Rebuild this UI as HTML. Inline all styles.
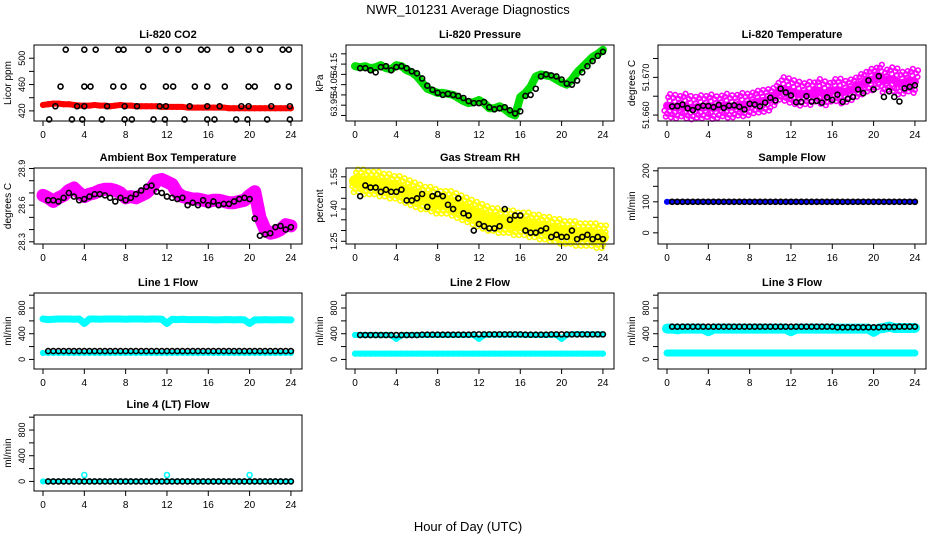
<!DOCTYPE html>
<html><head><meta charset="utf-8"><style>
html,body{margin:0;padding:0;background:#fff;}
svg{display:block;font-family:"Liberation Sans",sans-serif;}
</style></head><body>
<svg id="c" width="936" height="540" viewBox="0 0 936 540">
<text x="468" y="14" text-anchor="middle" font-size="13">NWR_101231  Average Diagnostics</text>
<text x="468" y="531" text-anchor="middle" font-size="13">Hour of Day (UTC)</text>
</svg>
<script>
// ---- data (0.5-hour steps; colored = all samples band, black = averages from 0.5h) ----
const xTicks = [0,4,8,12,16,20,24];
const co2Band = [429,430,431,431,430,430,429,428,428,428,429,428,428,427,428,429,428,428,427,427,427,427,427,426,426,426,426,426,425,425,425,425,425,425,425,425,424,424,424,424,424,424,424,424,424,424,424,424,424];
const co2BlackH = [2.2,4.0,5.1,7.3,7.8,10.2,11.9,13.1,15.3,15.9,18.2,19.9,21.0,23.2,23.8, 1.7,4.0,4.6,6.8,7.8,9.7,11.9,12.6,14.7,15.9,17.6,19.9,20.5,22.7,23.8, 1.2,3.3,4.0,6.2,7.9,9.1,11.3,11.9,14.2,15.9,17.1,19.2,19.9,22.1,23.9, 0.6,2.8,3.8,5.7,7.9,8.6,10.7,11.8,13.7,15.9,16.6,18.7,19.8,21.7,23.9];
const co2BlackV = [513,513,513,513,513,513,513,513,513,513,513,513,513,513,513, 457,457,457,457,457,457,457,457,457,457,457,457,457,457,457, 427,427,427,427,427,427,427,427,427,427,427,427,427,427,427, 407,407,407,407,407,407,407,407,407,407,407,407,407,407,407];
const presBand = [64.14,64.135,64.14,64.13,64.135,64.145,64.13,64.125,64.145,64.14,64.12,64.11,64.09,64.06,64.03,64.02,64.01,64.01,64.005,64.0,63.985,63.97,63.96,63.965,63.975,63.96,63.935,63.935,63.945,63.93,63.91,63.9,63.99,64.01,64.04,64.09,64.1,64.095,64.09,64.075,64.06,64.05,64.075,64.11,64.135,64.16,64.185,64.2,64.22];
const presBlack = [64.13,64.13,64.12,64.11,64.135,64.14,64.12,64.135,64.14,64.13,64.115,64.105,64.08,64.045,64.025,64.01,64.0,64.005,64.0,63.995,63.985,63.97,63.96,63.96,63.965,63.94,63.93,63.935,63.94,63.925,63.91,63.92,63.995,64.0,64.03,64.09,64.1,64.095,64.09,64.075,64.055,64.05,64.07,64.11,64.14,64.165,64.19,64.21];
const tempBand = [51.6625,51.6623,51.662,51.6626,51.662,51.6618,51.6622,51.662,51.6624,51.6619,51.6621,51.6626,51.6622,51.6623,51.6628,51.6626,51.6629,51.6634,51.6636,51.6638,51.6641,51.6655,51.667,51.6667,51.6662,51.6658,51.6654,51.6658,51.6656,51.6665,51.6659,51.6655,51.6665,51.6666,51.666,51.6664,51.6669,51.6678,51.6684,51.6692,51.6695,51.6703,51.669,51.6696,51.6693,51.6684,51.6686,51.6692,51.6688];
const tempBlack = [51.6623,51.6624,51.6628,51.6618,51.6613,51.6621,51.6625,51.6624,51.6621,51.6627,51.6619,51.6625,51.6626,51.6622,51.6615,51.663,51.6628,51.6623,51.6633,51.6646,51.6639,51.667,51.666,51.6652,51.6634,51.6635,51.665,51.6636,51.6638,51.6633,51.6647,51.664,51.6654,51.6635,51.6643,51.6648,51.6668,51.6658,51.6692,51.6668,51.6703,51.6648,51.6663,51.6648,51.6636,51.6671,51.6675,51.6679];
const ambBand = [28.68,28.66,28.63,28.66,28.68,28.72,28.74,28.70,28.67,28.69,28.70,28.72,28.73,28.73,28.72,28.70,28.66,28.67,28.66,28.68,28.70,28.74,28.80,28.81,28.79,28.77,28.70,28.67,28.66,28.65,28.65,28.64,28.63,28.64,28.64,28.63,28.62,28.62,28.63,28.64,28.68,28.71,28.50,28.40,28.37,28.38,28.40,28.44,28.43];
const ambBlack = [28.64,28.64,28.63,28.66,28.70,28.67,28.64,28.65,28.67,28.69,28.69,28.68,28.66,28.63,28.66,28.64,28.66,28.69,28.72,28.75,28.76,28.71,28.70,28.67,28.66,28.65,28.66,28.60,28.62,28.60,28.64,28.60,28.63,28.60,28.61,28.61,28.63,28.65,28.66,28.65,28.49,28.35,28.36,28.37,28.42,28.43,28.40,28.42];
const rhBand = [1.53,1.53,1.52,1.52,1.52,1.51,1.51,1.50,1.50,1.49,1.48,1.47,1.46,1.45,1.45,1.44,1.43,1.43,1.43,1.42,1.41,1.40,1.39,1.38,1.37,1.36,1.35,1.35,1.34,1.34,1.34,1.33,1.33,1.33,1.32,1.32,1.31,1.31,1.30,1.30,1.29,1.29,1.29,1.28,1.28,1.28,1.28,1.27,1.27];
const rhBlack = [1.46,1.51,1.50,1.50,1.48,1.49,1.48,1.48,1.49,1.44,1.44,1.45,1.47,1.41,1.46,1.47,1.46,1.42,1.40,1.45,1.38,1.37,1.30,1.33,1.32,1.31,1.31,1.32,1.40,1.35,1.37,1.37,1.30,1.29,1.29,1.30,1.31,1.27,1.28,1.27,1.27,1.30,1.26,1.27,1.28,1.26,1.27,1.26];
const sampleBand = [100,100,100,100,100,100,100,100,100,100,100,100,100,100,100,100,100,100,100,100,100,100,100,100,100,100,100,100,100,100,100,100,100,100,100,100,100,100,100,100,100,100,100,100,100,100,100,100,100];
const sampleBlack = [100,100,100,100,100,100,100,100,100,100,100,100,100,100,100,100,100,100,100,100,100,100,100,100,100,100,100,100,100,100,100,100,100,100,100,100,100,100,100,100,100,100,100,100,100,100,100,100];
const l1High = [630,620,625,630,630,630,625,630,560,630,630,625,630,630,630,630,625,630,630,630,625,630,630,625,560,625,620,625,620,620,620,620,620,615,615,620,620,615,620,615,560,615,615,620,615,615,620,615,615];
const l1Low = [100,100,100,100,100,100,100,100,100,100,100,100,100,100,100,100,100,100,100,100,100,100,100,100,100,100,100,100,100,100,100,100,100,100,100,100,100,100,100,100,100,100,100,100,100,100,100,100,100];
const l1Black = [130,130,130,130,130,130,130,130,130,130,130,130,130,130,130,130,130,130,130,130,130,130,130,130,130,130,130,130,130,130,130,130,130,130,130,130,130,130,130,130,130,130,130,130,130,130,130,130];
const l2High = [380,380,380,380,380,380,380,380,320,380,380,380,380,380,380,380,380,380,380,380,380,380,380,380,320,380,385,385,385,385,385,385,385,380,380,380,380,380,380,380,320,385,390,395,390,390,390,390,390];
const l2Low = [90,90,90,90,90,90,90,90,90,90,90,90,90,90,90,90,90,90,90,90,90,90,90,90,90,90,90,90,90,90,90,90,90,90,90,90,90,90,90,90,90,90,90,90,90,90,90,90,90];
const l2Black = [380,380,380,380,380,380,380,380,380,380,380,380,385,385,385,385,385,385,385,385,385,385,390,390,390,390,390,390,390,390,390,390,385,385,385,385,385,390,390,390,390,390,390,390,390,390,390,390];
const l3High = [480,480,470,480,480,480,480,480,440,480,480,480,480,480,480,480,480,480,480,480,480,480,480,480,440,480,480,480,480,480,480,480,480,480,480,480,480,480,480,480,430,480,490,510,490,490,490,490,490];
const l3Low = [100,100,100,100,100,100,100,100,100,100,100,100,100,100,100,100,100,100,100,100,100,100,100,100,100,100,100,100,100,100,100,100,100,100,100,100,100,100,100,100,100,100,100,100,100,100,100,100,100];
const l3Black = [510,510,510,510,510,510,510,510,510,510,510,510,510,510,510,510,510,510,510,510,510,510,510,510,510,510,510,510,510,510,510,510,500,500,500,500,500,500,500,500,500,505,505,505,510,510,510,510];
const l4Band = [0,0,0,0,0,0,0,0,0,0,0,0,0,0,0,0,0,0,0,0,0,0,0,0,0,0,0,0,0,0,0,0,0,0,0,0,0,0,0,0,0,0,0,0,0,0,0,0,0];
const l4SpikeH = [4,12,20];
const l4SpikeV = [100,100,100];
const l4Black = [0,0,0,0,0,0,0,0,0,0,0,0,0,0,0,0,0,0,0,0,0,0,0,0,0,0,0,0,0,0,0,0,0,0,0,0,0,0,0,0,0,0,0,0,0,0,0,0];

// ---- drawing ----
const NS = "http://www.w3.org/2000/svg";
const svg = document.getElementById('c');
function mk(tag, attrs, parent){ const e=document.createElementNS(NS,tag); for(const k in attrs) e.setAttribute(k,attrs[k]); (parent||svg).appendChild(e); return e; }
const rowTop=[45,168,293,415], H=76, W=268;
function panel(col,row,title,ylab,ymin,ymax,ticks,labels){
  const g=mk('g',{});
  
  
  const L=34+312*col, T=rowTop[row];
  const xs=h=>L+9+h*10.33;
  const ys=v=>T+H-( (v-ymin)/(ymax-ymin) )*H;
  const t=mk('text',{x:L+W/2,y:T-7,'text-anchor':'middle','font-size':11,'font-weight':'bold'},g); t.textContent=title;
  
  
  const yl=mk('text',{transform:`translate(${L-23},${T+H/2}) rotate(-90)`,'text-anchor':'middle','font-size':10},g); yl.textContent=ylab;
  
  
  const plot=mk('g',{},g);
  
  
  mk('rect',{x:L,y:T,width:W,height:H,fill:'none',stroke:'#000','stroke-width':1},g);
  xTicks.forEach(h=>{ const x=xs(h); mk('line',{x1:x,x2:x,y1:T+H,y2:T+H+5,stroke:'#000'},g);
    const tl=mk('text',{x:x,y:T+H+17,'text-anchor':'middle','font-size':10},g); tl.textContent=h;
    
     });
  ticks.forEach((v,i)=>{ const y=ys(v); mk('line',{x1:L-5,x2:L,y1:y,y2:y,stroke:'#000'},g);
    if(labels[i]){ const tl=mk('text',{transform:`translate(${L-9},${y}) rotate(-90)`,'text-anchor':'middle','font-size':9},g); tl.textContent=labels[i];
      
       } });
  return {g:plot,xs,ys,L,T};
}
function band(p,vals,color,w,spread){
  let pts=vals.map((v,i)=>p.xs(i*0.5)+','+p.ys(v)).join(' ');
  const pl=mk('polyline',{points:pts,fill:'none',stroke:color,'stroke-width':w,'stroke-linejoin':'round','stroke-linecap':'round'},p.g);
  
  
  vals.forEach((v,i)=>{
    const x=p.xs(i*0.5), y=p.ys(v);
    mk('circle',{cx:x,cy:y,r:2.3,fill:'none',stroke:color,'stroke-width':1.6},p.g);
    if(spread){ [[-0.25,1],[0.25,-1],[0,1.6],[0.12,-1.7],[-0.12,2.2],[0.3,-2.3]].forEach(o=>{
      mk('circle',{cx:x+o[0]*10.33,cy:y+o[1]*spread,r:2.3,fill:'none',stroke:color,'stroke-width':1.6},p.g); }); }
  });
}
function dots(p,hs,vals,color){
  vals.forEach((v,i)=>{ const h=hs?hs[i]:0.5+i*0.5;
    const c=mk('circle',{cx:p.xs(h),cy:p.ys(v),r:2.5,fill:'none',stroke:color||'#000','stroke-width':1.6},p.g);
    
     });
}
const flowTicks=[0,200,400,600,800,1000], flowLabels=['0','','400','','800',''];
let p;
p=panel(0,0,'Li-820 CO2','Licor ppm',404.6,520.1,[420,440,460,480,500],['420','','460','','500']);
band(p,co2Band,'#ff0000',6,0); dots(p,co2BlackH,co2BlackV);
p=panel(1,0,'Li-820 Pressure','kPa',63.873,64.243,[63.9,63.95,64.0,64.05,64.1,64.15,64.2],['','63.95','','64.05','','64.15','']);
band(p,presBand,'#00dd00',8,0); dots(p,null,presBlack);
p=panel(2,0,'Li-820 Temperature','degrees C',51.65843,51.67858,[51.66,51.665,51.67,51.675],['51.660','','51.670','']);
band(p,tempBand,'#ff00ff',8,5); dots(p,null,tempBlack);
p=panel(0,1,'Ambient Box Temperature','degrees C',28.282,28.904,[28.3,28.4,28.5,28.6,28.7,28.8,28.9],['28.3','','','28.6','','','28.9']);
band(p,ambBand,'#ff00ff',13,0); dots(p,null,ambBlack);
p=panel(1,1,'Gas Stream RH','percent',1.2373,1.591,[1.25,1.3,1.35,1.4,1.45,1.5,1.55],['1.25','','','1.40','','','1.55']);
band(p,rhBand,'#ffff00',12,5); dots(p,null,rhBlack);
p=panel(2,1,'Sample Flow','ml/min',-36,209,[0,50,100,150,200],['0','','100','','200']);
band(p,sampleBand,'#0000ff',5,0); dots(p,null,sampleBlack);
p=panel(0,2,'Line 1 Flow','ml/min',-149,1034,flowTicks,flowLabels);
band(p,l1High,'#00ffff',7,0); band(p,l1Low,'#00ffff',5,0); dots(p,null,l1Black);
p=panel(1,2,'Line 2 Flow','ml/min',-149,1034,flowTicks,flowLabels);
band(p,l2High,'#00ffff',6,0); band(p,l2Low,'#00ffff',6,0); dots(p,null,l2Black);
p=panel(2,2,'Line 3 Flow','ml/min',-149,1034,flowTicks,flowLabels);
band(p,l3High,'#00ffff',10,0); band(p,l3Low,'#00ffff',7,0); dots(p,null,l3Black);
p=panel(0,3,'Line 4 (LT) Flow','ml/min',-149,1034,flowTicks,flowLabels);
band(p,l4Band,'#00ffff',5,0); dots(p,l4SpikeH,l4SpikeV,'#00ffff'); dots(p,null,l4Black);
</script>
</body></html>
